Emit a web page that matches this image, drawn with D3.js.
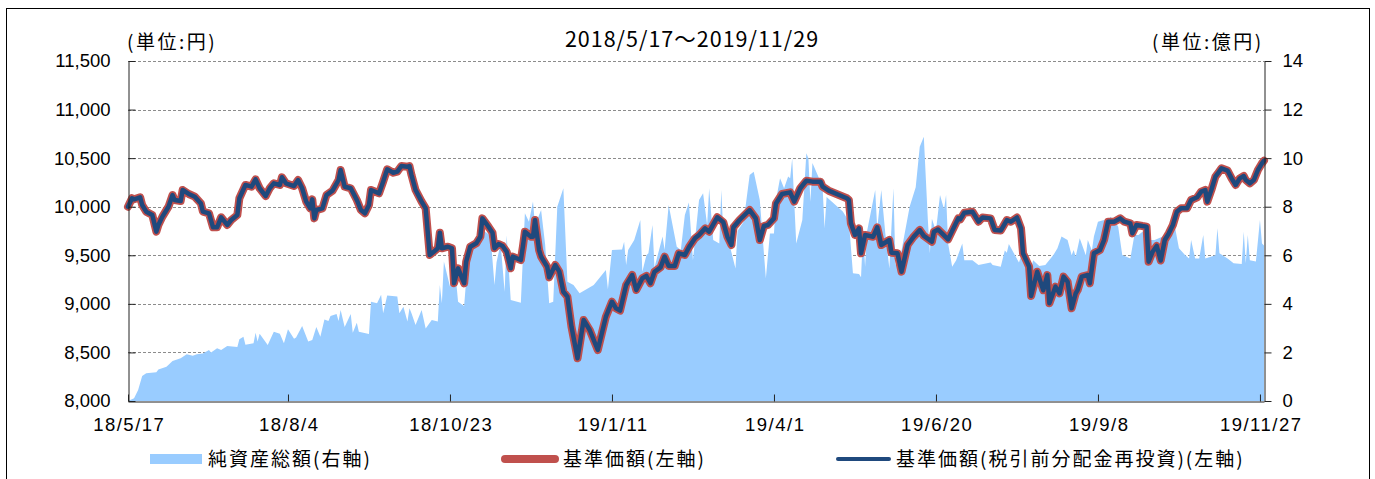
<!DOCTYPE html>
<html>
<head>
<meta charset="utf-8">
<script src="https://cdn.jsdelivr.net/npm/d3@7"></script>
<style>
body { margin: 0; background: #fff; }
svg text { font-family: "Noto Sans CJK JP", "Noto Sans", sans-serif; fill: #000; }
svg .tick text { font-family: "Liberation Sans", Arial, sans-serif; }
</style>
</head>
<body>
<script>
// 基準価額 (円)
var navDates = ["18/5/17","18/5/19","18/5/20","18/5/23","18/5/24","18/5/26","18/5/29","18/5/31","18/6/1","18/6/3","18/6/6","18/6/8","18/6/9","18/6/12","18/6/13","18/6/16","18/6/19","18/6/22","18/6/23","18/6/26","18/6/28","18/6/30","18/7/2","18/7/5","18/7/7","18/7/10","18/7/11","18/7/14","18/7/17","18/7/19","18/7/21","18/7/24","18/7/26","18/7/28","18/7/31","18/8/1","18/8/3","18/8/7","18/8/9","18/8/11","18/8/13","18/8/15","18/8/16","18/8/17","18/8/18","18/8/21","18/8/23","18/8/26","18/8/29","18/8/30","18/9/1","18/9/4","18/9/7","18/9/9","18/9/11","18/9/13","18/9/14","18/9/18","18/9/20","18/9/22","18/9/25","18/9/27","18/9/29","18/10/2","18/10/3","18/10/4","18/10/6","18/10/9","18/10/11","18/10/13","18/10/15","18/10/17","18/10/18","18/10/19","18/10/22","18/10/24","18/10/25","18/10/27","18/10/30","18/10/31","18/11/2","18/11/5","18/11/7","18/11/8","18/11/11","18/11/13","18/11/14","18/11/16","18/11/18","18/11/20","18/11/22","18/11/23","18/11/27","18/11/28","18/11/29","18/12/2","18/12/3","18/12/4","18/12/6","18/12/7","18/12/10","18/12/11","18/12/14","18/12/16","18/12/18","18/12/20","18/12/22","18/12/25","18/12/28","18/12/31","19/1/4","19/1/8","19/1/11","19/1/13","19/1/15","19/1/18","19/1/21","19/1/23","19/1/26","19/1/28","19/1/30","19/2/1","19/2/4","19/2/6","19/2/8","19/2/11","19/2/13","19/2/16","19/2/18","19/2/21","19/2/23","19/2/26","19/2/28","19/3/4","19/3/7","19/3/9","19/3/11","19/3/12","19/3/15","19/3/18","19/3/20","19/3/23","19/3/25","19/3/27","19/3/29","19/4/1","19/4/2","19/4/5","19/4/9","19/4/11","19/4/14","19/4/17","19/4/20","19/4/24","19/4/25","19/4/28","19/5/7","19/5/8","19/5/9","19/5/11","19/5/13","19/5/14","19/5/16","19/5/20","19/5/22","19/5/24","19/5/28","19/5/29","19/6/1","19/6/3","19/6/6","19/6/9","19/6/12","19/6/14","19/6/18","19/6/19","19/6/21","19/6/26","19/7/1","19/7/2","19/7/4","19/7/8","19/7/11","19/7/13","19/7/17","19/7/19","19/7/22","19/7/25","19/7/27","19/7/30","19/8/1","19/8/2","19/8/5","19/8/6","19/8/9","19/8/12","19/8/14","19/8/15","19/8/18","19/8/20","19/8/22","19/8/24","19/8/26","19/8/28","19/8/29","19/8/31","19/9/3","19/9/4","19/9/6","19/9/9","19/9/11","19/9/13","19/9/16","19/9/19","19/9/21","19/9/24","19/9/25","19/9/27","19/9/30","19/10/2","19/10/3","19/10/5","19/10/7","19/10/9","19/10/11","19/10/13","19/10/15","19/10/17","19/10/19","19/10/22","19/10/24","19/10/27","19/10/29","19/10/31","19/11/1","19/11/3","19/11/5","19/11/6","19/11/8","19/11/11","19/11/13","19/11/15","19/11/17","19/11/19","19/11/20","19/11/22","19/11/24","19/11/26","19/11/28","19/11/29"];
var navValues = [10000,10087,10076,10097,10018,9949,9915,9743,9812,9898,10000,10120,10069,10059,10172,10131,10103,10034,9949,9932,9788,9788,9891,9812,9863,9915,10087,10224,10206,10282,10190,10110,10190,10241,10224,10303,10241,10213,10275,10190,10052,9983,10076,9880,9966,9983,10120,10165,10275,10378,10206,10190,10069,9966,9932,10018,10172,10138,10258,10385,10350,10361,10419,10412,10419,10326,10172,10052,9983,9503,9537,9572,9733,9572,9588,9572,9212,9366,9212,9434,9588,9623,9691,9880,9794,9733,9572,9616,9596,9537,9366,9486,9451,9588,9743,9691,9691,9863,9554,9486,9383,9273,9400,9331,9125,9074,8765,8440,8834,8731,8525,8868,9022,8954,8930,9194,9297,9143,9263,9287,9212,9331,9376,9486,9390,9390,9520,9503,9582,9675,9708,9777,9743,9891,9839,9691,9606,9788,9863,9925,9966,9880,9657,9801,9812,9880,10034,10131,10148,10052,10190,10268,10258,10258,10206,10165,10087,10069,9829,9709,9777,9520,9709,9691,9788,9606,9657,9527,9520,9331,9606,9691,9760,9700,9640,9743,9766,9664,9880,9870,9938,9949,9846,9889,9880,9760,9755,9863,9846,9889,9777,9520,9383,9081,9331,9140,9297,9006,9177,9108,9280,9228,8954,9108,9143,9280,9297,9212,9520,9554,9657,9846,9846,9880,9846,9829,9726,9812,9801,9795,9434,9537,9596,9446,9657,9726,9812,9949,9983,9983,10069,10097,10155,10172,10052,10172,10310,10337,10395,10372,10292,10224,10292,10316,10275,10241,10275,10378,10447,10474];
// 基準価額(税引前分配金再投資): no distributions paid, so it sits on the same values
var reinvestValues = navValues;

// 純資産総額 (億円)
var assetDates = ["18/5/17","18/5/20","18/5/22","18/5/24","18/5/26","18/5/31","18/6/1","18/6/5","18/6/8","18/6/12","18/6/15","18/6/18","18/6/20","18/6/23","18/6/26","18/6/27","18/6/30","18/7/2","18/7/5","18/7/10","18/7/11","18/7/13","18/7/14","18/7/18","18/7/19","18/7/20","18/7/21","18/7/25","18/7/28","18/7/31","18/8/2","18/8/4","18/8/7","18/8/8","18/8/11","18/8/14","18/8/16","18/8/18","18/8/20","18/8/22","18/8/24","18/8/25","18/8/28","18/8/29","18/8/30","18/9/1","18/9/4","18/9/5","18/9/7","18/9/8","18/9/13","18/9/14","18/9/17","18/9/19","18/9/20","18/9/22","18/9/27","18/9/28","18/9/30","18/10/2","18/10/3","18/10/4","18/10/6","18/10/9","18/10/11","18/10/14","18/10/17","18/10/18","18/10/19","18/10/20","18/10/23","18/10/25","18/10/27","18/10/30","18/10/31","18/11/2","18/11/5","18/11/8","18/11/12","18/11/14","18/11/15","18/11/17","18/11/19","18/11/20","18/11/22","18/11/27","18/11/29","18/12/1","18/12/3","18/12/4","18/12/7","18/12/9","18/12/11","18/12/13","18/12/15","18/12/18","18/12/20","18/12/23","18/12/26","19/1/2","19/1/6","19/1/8","19/1/9","19/1/11","19/1/16","19/1/17","19/1/18","19/1/19","19/1/22","19/1/25","19/1/26","19/1/28","19/1/29","19/1/31","19/2/1","19/2/5","19/2/6","19/2/8","19/2/12","19/2/14","19/2/16","19/2/18","19/2/20","19/2/23","19/2/25","19/2/27","19/2/28","19/3/2","19/3/5","19/3/6","19/3/7","19/3/10","19/3/13","19/3/14","19/3/17","19/3/20","19/3/22","19/3/25","19/3/28","19/3/30","19/4/1","19/4/2","19/4/4","19/4/6","19/4/8","19/4/9","19/4/10","19/4/12","19/4/15","19/4/17","19/4/18","19/4/19","19/4/20","19/4/25","19/4/26","19/4/27","19/5/5","19/5/8","19/5/10","19/5/13","19/5/14","19/5/15","19/5/16","19/5/17","19/5/21","19/5/22","19/5/24","19/5/26","19/5/28","19/5/30","19/5/31","19/6/3","19/6/7","19/6/10","19/6/12","19/6/14","19/6/16","19/6/17","19/6/18","19/6/20","19/6/22","19/6/24","19/6/25","19/6/26","19/6/28","19/6/30","19/7/3","19/7/4","19/7/8","19/7/11","19/7/17","19/7/18","19/7/22","19/7/24","19/7/25","19/7/26","19/7/31","19/8/2","19/8/5","19/8/7","19/8/10","19/8/13","19/8/17","19/8/19","19/8/21","19/8/24","19/8/26","19/8/27","19/8/28","19/8/30","19/9/2","19/9/3","19/9/5","19/9/6","19/9/8","19/9/11","19/9/12","19/9/14","19/9/16","19/9/18","19/9/20","19/9/24","19/9/26","19/9/28","19/9/30","19/10/4","19/10/6","19/10/10","19/10/13","19/10/16","19/10/18","19/10/21","19/10/23","19/10/24","19/10/26","19/10/28","19/10/30","19/10/31","19/11/5","19/11/6","19/11/7","19/11/11","19/11/14","19/11/18","19/11/19","19/11/20","19/11/21","19/11/22","19/11/25","19/11/27","19/11/28","19/11/29"];
var assetValues = [0,0.11,0.45,1.03,1.14,1.18,1.30,1.41,1.65,1.76,1.92,1.86,1.92,1.96,2.10,2.00,2.17,2.10,2.26,2.22,2.54,2.65,2.32,2.38,2.81,2.45,2.77,2.31,2.85,2.77,2.38,2.95,2.56,2.61,3.09,2.45,2.51,3.05,2.65,3.36,3.29,3.50,3.58,3.29,3.75,3.05,3.58,2.81,3.22,2.85,2.76,4.09,4.03,4.37,3.61,4.34,4.30,3.61,3.88,3.27,3.82,3.61,3.13,3.75,2.99,3.34,3.27,4.78,4.03,5.74,4.71,5.87,4.09,3.91,4.98,6.49,6.70,7.04,6.82,4.78,5.71,6.49,4.50,6.82,4.16,4.05,7.73,7.38,8.21,7.24,7.86,6.44,4.03,4.09,8.00,8.76,4.91,4.78,4.44,4.78,5.19,5.39,4.60,6.22,6.24,6.56,5.60,6.22,6.63,7.45,5.32,6.00,6.08,7.25,5.50,6.77,6.22,8.07,6.35,6.22,7.66,8.17,5.80,8.28,8.55,7.25,8.76,6.63,6.49,8.69,6.90,6.45,5.46,7.00,7.38,9.31,9.44,8.28,5.05,6.90,6.90,8.28,9.17,8.76,9.24,9.17,9.99,6.49,7.45,10.20,10.00,8.20,9.80,8.83,7.11,8.40,7.80,7.40,5.26,5.23,5.10,7.00,5.53,7.00,8.69,7.10,8.69,6.90,5.46,8.76,5.60,6.20,8.00,8.80,10.47,10.88,7.45,6.08,7.50,7.00,8.48,7.90,8.48,6.49,5.53,5.80,6.49,5.80,5.80,5.60,5.70,5.60,5.53,6.20,6.10,6.46,5.70,6.20,5.10,5.80,5.56,5.60,6.01,6.29,6.77,6.63,6.00,6.22,5.94,6.70,6.00,6.63,6.20,6.77,7.38,7.45,6.63,7.59,7.45,7.18,6.01,5.87,6.84,6.84,6.97,6.63,6.63,6.77,7.04,7.18,6.29,6.01,5.87,6.63,5.87,5.87,6.84,5.87,6.00,7.11,6.08,5.87,5.67,5.64,6.97,5.67,6.84,5.80,5.74,7.45,6.49,6.40];

var xTickDates = ["18/5/17","18/8/4","18/10/23","19/1/11","19/4/1","19/6/20","19/9/8","19/11/27"];
var leftTicks = [8000,8500,9000,9500,10000,10500,11000,11500];
var rightTicks = [0,2,4,6,8,10,12,14];
var periodStart = "18/5/17", periodEnd = "19/11/29";

var width = 1375, height = 479;
var plot = {left: 128, right: 1264, top: 61, bottom: 401};

var parseDate = d3.timeParse("%y/%m/%d");
var nav = navDates.map(function(d, i) { return {date: parseDate(d), value: navValues[i]}; });
var reinvest = navDates.map(function(d, i) { return {date: parseDate(d), value: reinvestValues[i]}; });
var assets = assetDates.map(function(d, i) { return {date: parseDate(d), value: assetValues[i]}; });

var svg = d3.select("body").append("svg")
    .attr("width", width)
    .attr("height", height);

svg.append("rect")
    .attr("x", 6.5).attr("y", 8.5)
    .attr("width", 1363).attr("height", 490)
    .attr("fill", "#fff")
    .attr("stroke", "#000")
    .attr("stroke-width", 1);

var x = d3.scaleTime()
    .domain([parseDate(periodStart), parseDate(periodEnd)])
    .range([plot.left, plot.right]);

var yLeft = d3.scaleLinear()
    .domain([8000, 11500])
    .range([plot.bottom, plot.top]);

var yRight = d3.scaleLinear()
    .domain([0, 14])
    .range([plot.bottom, plot.top]);

// gridlines
svg.append("g").selectAll("line")
    .data(leftTicks.slice(1))
    .enter()
    .append("line")
        .attr("x1", plot.left).attr("x2", plot.right)
        .attr("y1", function(d) { return Math.round(yLeft(d)) + 0.5; })
        .attr("y2", function(d) { return Math.round(yLeft(d)) + 0.5; })
        .attr("stroke", "#8c8c8c")
        .attr("stroke-width", 1)
        .attr("stroke-dasharray", "3,2");

// 純資産総額 area
var area = d3.area()
    .x(function(d) { return x(d.date); })
    .y0(yRight(0))
    .y1(function(d) { return yRight(d.value); });

svg.append("path")
    .datum(assets)
    .attr("d", area)
    .attr("fill", "#99ccff");

var line = d3.line()
    .x(function(d) { return x(d.date); })
    .y(function(d) { return yLeft(d.value); });

svg.append("path")
    .datum(nav)
    .attr("d", line)
    .attr("fill", "none")
    .attr("stroke", "#c0504d")
    .attr("stroke-width", 8)
    .attr("stroke-linejoin", "round")
    .attr("stroke-linecap", "round");

svg.append("path")
    .datum(reinvest)
    .attr("d", line)
    .attr("fill", "none")
    .attr("stroke", "#1f497d")
    .attr("stroke-width", 4.5)
    .attr("stroke-linejoin", "round")
    .attr("stroke-linecap", "round");

// axes
var leftAxis = svg.append("g")
    .attr("transform", "translate(" + (plot.left + 0.5) + ",0)")
    .call(d3.axisLeft(yLeft).tickValues(leftTicks).tickFormat(d3.format(",")).tickSize(-7).tickSizeOuter(0).tickPadding(18));

var rightAxis = svg.append("g")
    .attr("transform", "translate(" + (plot.right + 0.5) + ",0)")
    .call(d3.axisRight(yRight).tickValues(rightTicks).tickFormat(d3.format("d")).tickSize(7).tickSizeOuter(0).tickPadding(11));

var bottomAxis = svg.append("g")
    .attr("transform", "translate(0," + (plot.bottom + 0.5) + ")")
    .call(d3.axisBottom(x).tickValues(xTickDates.map(parseDate)).tickFormat(d3.timeFormat("%y/%-m/%-d")).tickSize(-7).tickSizeOuter(0).tickPadding(16));

svg.selectAll(".domain, .tick line")
    .attr("stroke", "#222")
    .attr("stroke-width", 1);

svg.selectAll(".tick text")
    .style("font-size", "18.5px");

bottomAxis.selectAll(".tick text")
    .style("letter-spacing", "1.5px")
    .attr("dx", "0.75px");

// titles
svg.append("text")
    .attr("x", 692).attr("y", 47)
    .attr("text-anchor", "middle")
    .style("font-size", "21.5px")
    .style("letter-spacing", "1px")
    .text("2018/5/17～2019/11/29");

svg.append("text")
    .attr("x", 127).attr("y", 49)
    .style("font-size", "19px")
    .style("letter-spacing", "2.5px")
    .text("(単位:円)");

svg.append("text")
    .attr("x", 1152).attr("y", 49)
    .style("font-size", "19px")
    .style("letter-spacing", "2.5px")
    .text("(単位:億円)");

// legend
var legend = svg.append("g")
    .style("font-size", "19px")
    .style("letter-spacing", "2px");

legend.append("rect")
    .attr("x", 150).attr("y", 454)
    .attr("width", 52).attr("height", 10)
    .attr("fill", "#99ccff");

legend.append("text")
    .attr("x", 208).attr("y", 466)
    .text("純資産総額(右軸)");

legend.append("line")
    .attr("x1", 505).attr("x2", 555)
    .attr("y1", 459).attr("y2", 459)
    .attr("stroke", "#c0504d")
    .attr("stroke-width", 8)
    .attr("stroke-linecap", "round");

legend.append("text")
    .attr("x", 563).attr("y", 466)
    .text("基準価額(左軸)");

legend.append("line")
    .attr("x1", 838).attr("x2", 889)
    .attr("y1", 459).attr("y2", 459)
    .attr("stroke", "#1f497d")
    .attr("stroke-width", 4)
    .attr("stroke-linecap", "round");

legend.append("text")
    .attr("x", 896).attr("y", 466)
    .text("基準価額(税引前分配金再投資)(左軸)");
</script>
</body>
</html>
